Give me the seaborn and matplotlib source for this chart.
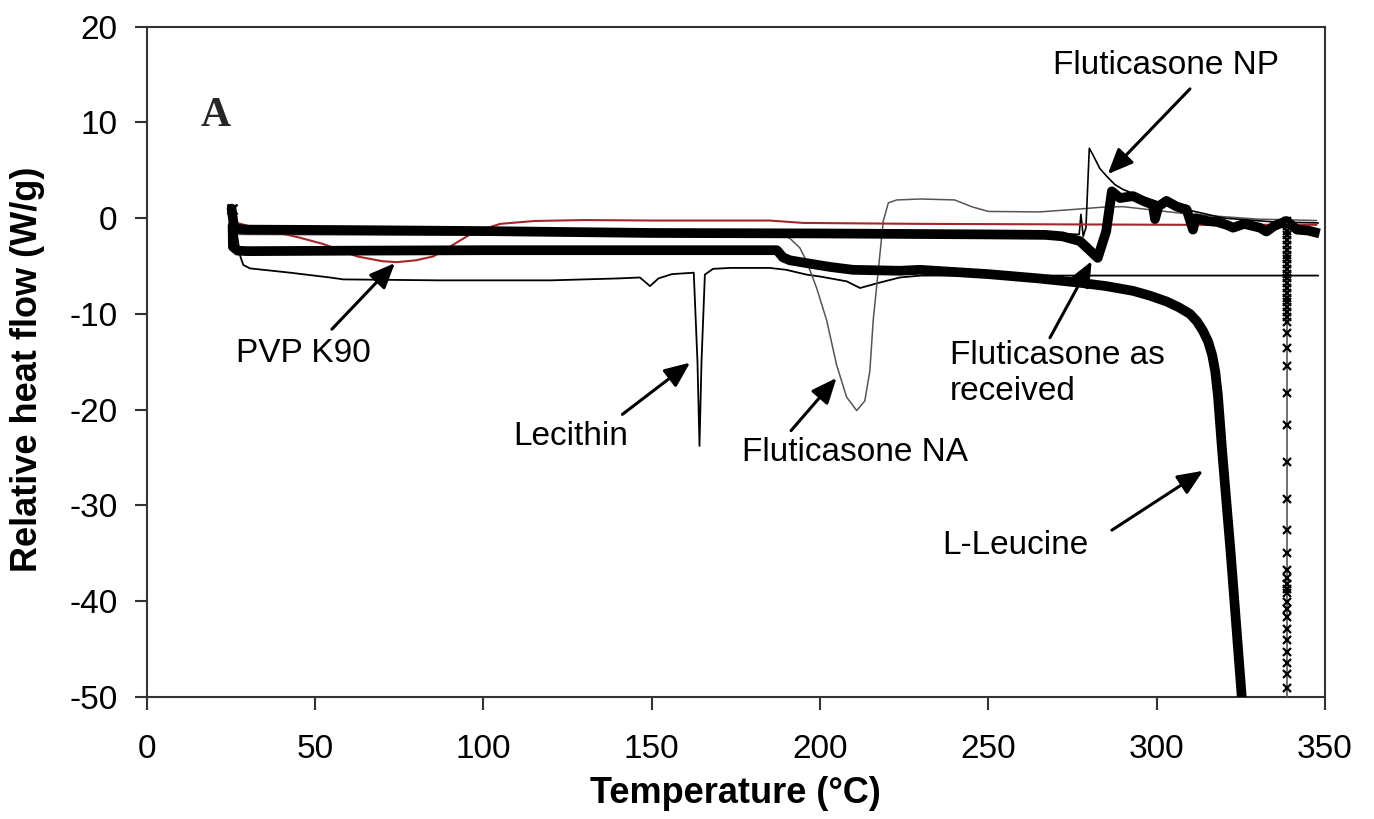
import matplotlib
matplotlib.use("Agg")
import matplotlib.pyplot as plt
import seaborn as sns
import pandas as pd

# ---------------- data ----------------
# PVP K90 (red)
pvp_T = [26.8, 30, 37.5, 45, 52.4, 62.5, 70, 74.3, 80, 85.1, 90, 97, 105, 115, 130, 150, 185,
         195, 230, 270, 310, 347.5]
pvp_y = [-0.5, -0.8, -1.4, -2.0, -2.7, -4.0, -4.5, -4.6, -4.4, -4.0, -3.0, -1.5, -0.6, -0.3,
         -0.2, -0.25, -0.25, -0.5, -0.6, -0.65, -0.7, -0.7]

# Lecithin (thin black)
lec_T = [26.5, 27.8, 28.7, 30.7, 42.6, 54.4, 58.4, 87, 120, 140, 146.5, 149.5, 152, 156, 162.5,
         163.6, 164.2, 164.8, 165.8, 168.2, 173.3, 185, 190, 196, 200, 207.9, 211.9, 217, 223.7,
         230, 348]
lec_y = [-1.0, -4.0, -4.9, -5.25, -5.7, -6.2, -6.4, -6.5, -6.5, -6.3, -6.2, -7.1, -6.3, -5.85,
         -5.7, -15.0, -23.8, -15.0, -5.9, -5.3, -5.2, -5.2, -5.4, -5.9, -6.1, -6.6, -7.3, -6.8,
         -6.2, -6.0, -6.0]

# Fluticasone NA (thin grey)
fna_T = [26.0, 60, 120, 180, 189, 191, 194, 196, 199, 202, 204.9, 207.9, 210.9, 213.3, 214.8,
         215.8, 217.3, 218.8, 220.3, 222.8, 230, 240, 245, 250, 265.3, 275, 284.1, 290, 310,
         330, 347.5]
fna_y = [-1.7, -1.75, -1.8, -1.8, -1.85, -2.1, -3.1, -4.5, -7.3, -10.7, -15.3, -18.7, -20.1,
         -19.1, -16.0, -10.7, -5.5, -0.3, 1.6, 1.9, 2.0, 1.9, 1.2, 0.7, 0.65, 0.9, 1.15, 1.2,
         0.4, -0.1, -0.25]

# Fluticasone NP (thin black)
fnp_T = [26.0, 40, 100, 150, 200, 250, 270, 277.0, 277.5, 278.2, 279.0, 280.0, 281.1, 283.1,
         285.1, 287.6, 290.0, 295, 305, 320, 335, 348]
fnp_y = [-1.4, -1.3, -1.35, -1.45, -1.5, -1.6, -1.6, -1.7, 0.4, -1.9, -1.0, 7.3, 6.6, 5.2, 4.4,
         3.5, 3.0, 2.3, 1.2, 0.0, -0.4, -0.5]

# Fluticasone as received (thick black, x markers)
asr_T = [25.2, 26.0, 30, 60, 100, 150, 200, 250, 267, 272, 277.2, 282.5, 285.0, 286.7, 289.1,
         293.0, 296, 298.9, 299.5, 300.5, 302.9, 306, 308.9, 310.8, 311.6, 315, 318, 320.8,
         322.7, 326, 330.7, 332.6, 335, 338.6]
asr_y = [1.0, -1.1, -1.2, -1.25, -1.35, -1.55, -1.6, -1.7, -1.75, -1.9, -2.4, -4.15, -1.4, 2.8,
         2.1, 2.3, 1.8, 1.4, -0.1, 1.2, 1.8, 1.2, 0.9, -1.2, 0.0, -0.3, -0.4, -0.7, -1.0, -0.6,
         -1.0, -1.4, -0.8, -0.3]
asr_drop_T = 338.6
asr_drop_y = [-0.3, -0.8, -1.3, -1.8, -2.3, -2.8, -3.3, -3.8, -4.3, -4.8, -5.3, -5.8, -6.3, -6.8,
              -7.3, -7.8, -8.3, -8.8, -9.3, -9.8, -10.3, -10.8, -12.0, -13.6, -15.5, -18.3,
              -21.6, -25.5, -29.3, -32.6, -35.0, -36.8, -37.6, -38.2, -38.7, -39.2, -40.1,
              -40.8, -41.7, -42.9, -44.1, -45.3, -46.5, -47.6, -49.1, -52.0]
asr_tail_T = [338.6, 341.7, 345, 348.4]
asr_tail_y = [-0.3, -1.2, -1.3, -1.6]

# L-Leucine (thick black)
leu_T = [25.5, 25.6, 27, 30, 60, 100, 150, 187.2, 189, 191, 196, 203, 209.8, 223.7, 229.7, 250,
         265, 277.2, 285, 293, 298, 302.9, 306.5, 309.9, 312.0, 313.8, 315.3, 316.5, 317.4,
         318.2, 319.5, 322, 325.5]
leu_y = [-0.8, -3.0, -3.4, -3.45, -3.4, -3.35, -3.35, -3.35, -4.1, -4.4, -4.7, -5.1, -5.4, -5.5,
         -5.4, -5.85, -6.3, -6.75, -7.1, -7.6, -8.1, -8.7, -9.3, -10.0, -10.8, -11.8, -12.9,
         -14.3, -16.0, -18.5, -24.5, -35.0, -51.0]

x_ticks = [0, 50, 100, 150, 200, 250, 300, 350]
y_ticks = [-50, -40, -30, -20, -10, 0, 10, 20]

# annotations: label, text position, arrow tail, arrow head
ann_labels = ["Fluticasone NP", "PVP K90", "Lecithin", "Fluticasone NA",
              "Fluticasone as\nreceived", "L-Leucine"]
ann_text_xy = [(302.8, 15.9), (46.5, -14.1), (125.8, -22.8), (210.4, -24.5),
               (238.6, -16.2), (257.9, -34.2)]
ann_tail = [(309.9, 13.5), (55.0, -11.6), (141.3, -20.5), (191.4, -22.2),
            (268.3, -12.5), (286.7, -32.6)]
ann_head = [(285.5, 4.6), (73.7, -4.7), (161.4, -15.1), (204.9, -16.7),
            (280.7, -4.5), (313.8, -26.4)]
ann_ha = ["center", "center", "center", "center", "left", "center"]

# ---------------- plotting ----------------
sns.set_theme(style="ticks")
plt.rcParams["font.family"] = ["Liberation Sans", "DejaVu Sans"]
plt.rcParams["axes.unicode_minus"] = False

fig = plt.figure(figsize=(13.74, 8.19), dpi=100)
ax = fig.add_axes([0.1068, 0.1493, 0.8575, 0.8181])


def line(T, y, **kw):
    df = pd.DataFrame({"T": T, "y": y})
    sns.lineplot(data=df, x="T", y="y", ax=ax, sort=False, estimator=None, **kw)


line(lec_T, lec_y, color="black", linewidth=1.3, zorder=3)
line(fna_T, fna_y, color="#555555", linewidth=1.1, zorder=3)
line(fnp_T, fnp_y, color="black", linewidth=1.2, zorder=3)
line(pvp_T, pvp_y, color="#a3262a", linewidth=1.5, zorder=4)
line(asr_T, asr_y, color="black", linewidth=7, zorder=5, solid_joinstyle="round",
     solid_capstyle="round")
line(asr_tail_T, asr_tail_y, color="black", linewidth=7, zorder=5, solid_capstyle="butt")
line([asr_drop_T] * len(asr_drop_y), asr_drop_y, color="#555555", linewidth=1.2, zorder=5,
     marker="x", markersize=6, markeredgewidth=1.6, markeredgecolor="black")
ax.plot(asr_T[0], asr_y[0], marker="x", color="black", markersize=7, markeredgewidth=1.8,
        zorder=6)
line(leu_T, leu_y, color="black", linewidth=7, zorder=5, solid_joinstyle="round")

for lab, txy, tail, head, ha in zip(ann_labels, ann_text_xy, ann_tail, ann_head, ann_ha):
    ax.text(txy[0], txy[1], lab, ha=ha, va="center", fontsize=24, color="black",
            linespacing=1.2, zorder=7)
    ax.annotate("", xy=head, xytext=tail,
                arrowprops=dict(arrowstyle="-|>,head_length=0.7,head_width=0.3",
                                color="black", lw=2.2, mutation_scale=22,
                                shrinkA=0, shrinkB=0),
                zorder=7)

ax.text(20.6, 10.7, "A", ha="center", va="center", fontsize=30, fontweight="bold",
        family=["Liberation Serif", "DejaVu Serif"], zorder=7)

ax.set_xlim(0, 350)
ax.set_ylim(-50, 20)
ax.set_xticks(x_ticks)
ax.set_yticks(y_ticks)
ax.tick_params(axis="both", direction="out", length=9, width=1.5, color="#333333",
               labelsize=24, labelcolor="black")
ax.tick_params(axis="x", pad=18)
ax.tick_params(axis="y", pad=12)
for s in ax.spines.values():
    s.set_visible(True)
    s.set_color("#333333")
    s.set_linewidth(1.5)
ax.set_facecolor("white")
fig.patch.set_facecolor("white")
ax.grid(False)

ax.set_xlabel("Temperature (°C)", fontsize=26, fontweight="bold", color="black")
ax.set_ylabel("Relative heat flow (W/g)", fontsize=26, fontweight="bold", color="black")
ax.xaxis.set_label_coords(0.5, -0.118)
ax.yaxis.set_label_coords(-0.086, 0.488)
ax.xaxis.label.set_va("top")

fig.savefig("out.png", dpi=100, facecolor="white")
